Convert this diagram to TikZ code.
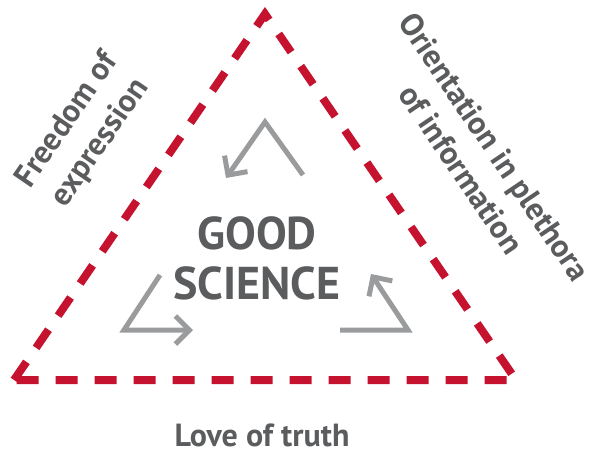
\documentclass[tikz,border=0pt]{standalone}
\usepackage{fontspec}
\setmainfont{PT Sans}
\usetikzlibrary{arrows.meta}
\definecolor{tred}{HTML}{C4122F}
\definecolor{tgray}{HTML}{5B5C5E}
\definecolor{agray}{HTML}{9A9B9D}
\begin{document}
\begin{tikzpicture}[x=1pt,y=-1pt,
  edge/.style={draw=tred,line width=8pt,dash pattern=on 22pt off 17pt},
  cyc/.style={draw=agray,line width=5pt,-{Straight Barb[length=14pt,width=28pt,line width=5pt]}},
  lbl/.style={text=tgray,font=\bfseries\fontsize{32}{40}\selectfont,align=center,inner sep=0pt}]
\useasboundingbox (0,0) rectangle (600,456);
\coordinate (T) at (265,14);
\coordinate (L) at (14,380);
\coordinate (R) at (516,380);
\draw[edge] (L) -- (T) -- (R) -- cycle;
\node[lbl,font=\bfseries\fontsize{46}{50}\selectfont] (gs) at (257,258) {GOOD\\SCIENCE};
\node[lbl,rotate=55.5] (fe) at (84,132) {Freedom of\\expression};
\node[lbl,rotate=-56] (oi) at (478,158) {Orientation in plethora\\of information};
\node[lbl] (lt) at (262,435) {Love of truth};
\coordinate (a1) at (303,175); \coordinate (a2) at (265,122); \coordinate (a3) at (226,178);
\coordinate (b1) at (160,275); \coordinate (b2) at (124,330); \coordinate (b3) at (193,330);
\coordinate (c1) at (340,330); \coordinate (c2) at (408,330); \coordinate (c3) at (371,274);
\draw[cyc,line join=miter] (a1) -- (a2) -- (a3);
\draw[cyc,line join=miter] (b1) -- (b2) -- (b3);
\draw[cyc,line join=miter] (c1) -- (c2) -- (c3);
\end{tikzpicture}
\end{document}
